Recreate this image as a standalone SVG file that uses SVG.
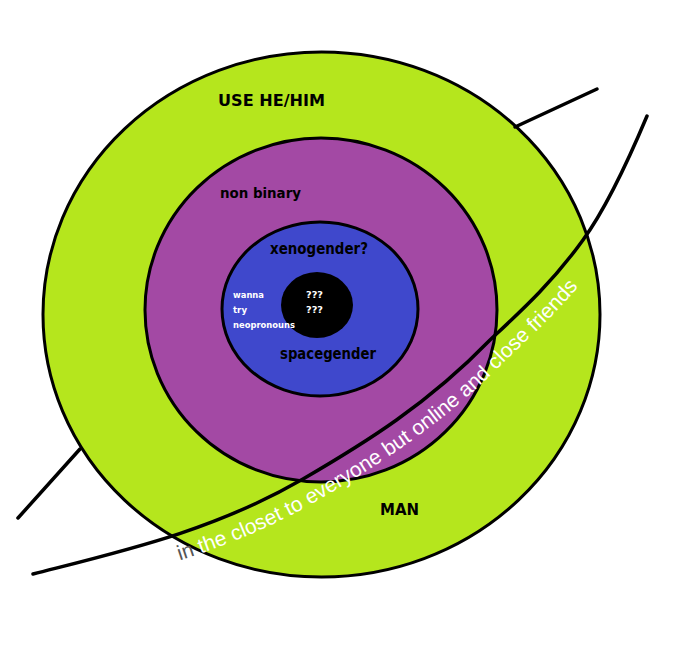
<svg xmlns="http://www.w3.org/2000/svg" width="680" height="656" viewBox="0 0 680 656">
<style>
.ring{stroke:#000;stroke-width:3}
.lbl{font-family:"Comic Sans MS","DejaVu Sans",sans-serif;font-weight:bold;fill:#000}
.sm{font-family:"Comic Sans MS","DejaVu Sans",sans-serif;font-weight:bold;fill:#fff;font-size:9.5px}
.ln{fill:none;stroke:#000;stroke-width:3.5;stroke-linecap:round}
.arc{font-family:"Liberation Sans",Arial,sans-serif;font-size:21px;fill:#fff}
</style>
<defs>
<path id="tp" d="M39,599 C129,576 225,554 315,502 C377,466 445,423 507,359 C538,330 571.5,299 602.5,256"/>
</defs>
<rect width="680" height="656" fill="#fff"/>
<g id="man">
<ellipse class="ring" cx="321.5" cy="314.5" rx="278.5" ry="262.5" fill="#b5e61d"/>
<text class="lbl" x="218" y="106" font-size="15" textLength="107" lengthAdjust="spacingAndGlyphs">USE HE/HIM</text>
<text class="lbl" x="380" y="515" font-size="15" textLength="39" lengthAdjust="spacingAndGlyphs">MAN</text>
</g>
<g id="nonbinary">
<ellipse class="ring" cx="321" cy="310" rx="176" ry="172" fill="#a349a4"/>
<text class="lbl" x="220" y="198" font-size="14" textLength="81" lengthAdjust="spacingAndGlyphs">non binary</text>
</g>
<g id="xenogender">
<ellipse class="ring" cx="320" cy="309" rx="98" ry="87" fill="#3f48cc"/>
<text class="lbl" x="270" y="254" font-size="15" textLength="98" lengthAdjust="spacingAndGlyphs">xenogender?</text>
<text class="lbl" x="280" y="359" font-size="15" textLength="96" lengthAdjust="spacingAndGlyphs">spacegender</text>
</g>
<g id="core">
<ellipse cx="317" cy="305" rx="36" ry="33" fill="#000"/>
<text class="sm" x="306" y="298" textLength="17" lengthAdjust="spacingAndGlyphs">???</text>
<text class="sm" x="306" y="313" textLength="17" lengthAdjust="spacingAndGlyphs">???</text>
</g>
<g id="neopronouns">
<text class="sm" x="233" y="298" textLength="31" lengthAdjust="spacingAndGlyphs">wanna</text>
<text class="sm" x="233" y="313" textLength="14" lengthAdjust="spacingAndGlyphs">try</text>
<text class="sm" x="233" y="328" textLength="62" lengthAdjust="spacingAndGlyphs">neopronouns</text>
</g>
<g id="connectors">
<line class="ln" x1="597" y1="89" x2="515" y2="127"/>
<line class="ln" x1="18" y1="518" x2="80" y2="449"/>
<path class="ln" d="M33,574 C123,551 213,531 303,479 C365,443 428,404 490,340 C521,311 552,283 583,240 C604,211 626,166 647,116"/>
</g>
<g id="closet">
<text class="arc"><textPath href="#tp" startOffset="146"><tspan fill="#555">in</tspan> the closet to everyone but online and close friends</textPath></text>
</g>
</svg>
